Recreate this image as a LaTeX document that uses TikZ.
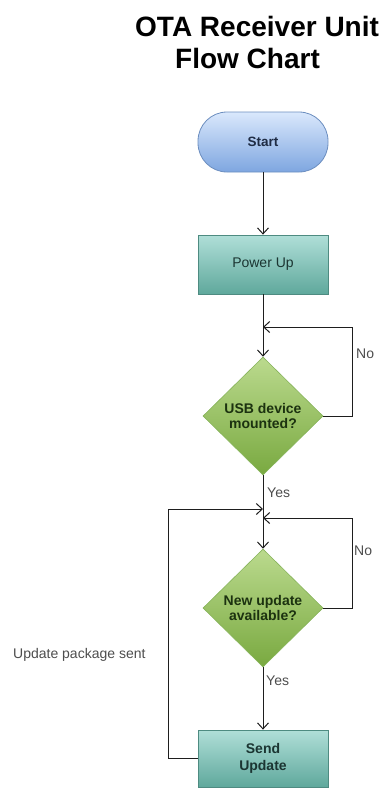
\documentclass[tikz,border=0pt]{standalone}
\usepackage{fontspec}
\setmainfont{Liberation Sans}
\usetikzlibrary{shapes.geometric,arrows.meta}

\definecolor{startTop}{HTML}{DAE8FC}
\definecolor{startBot}{HTML}{7EA6E0}
\definecolor{startLine}{HTML}{6C8EBF}
\definecolor{startInk}{HTML}{1F2C44}
\definecolor{procTop}{HTML}{B0DFD8}
\definecolor{procBot}{HTML}{5FA89C}
\definecolor{procLine}{HTML}{4E8B81}
\definecolor{procInk}{HTML}{1B3532}
\definecolor{decTop}{HTML}{BBDA8E}
\definecolor{decBot}{HTML}{79A940}
\definecolor{decLine}{HTML}{86B35A}
\definecolor{decInk}{HTML}{1C3210}
\definecolor{flowInk}{HTML}{1E1E1E}
\definecolor{noteInk}{HTML}{4D4D4D}

\begin{document}
\begin{tikzpicture}[x=1pt,y=-1pt,
  title/.style={font=\fontsize{28}{32}\selectfont\bfseries, text=black,
    inner sep=0pt, align=left},
  terminal/.style={rectangle, rounded corners=29pt, draw=startLine,
    line width=0.8pt, top color=startTop, bottom color=startBot,
    minimum width=130pt, minimum height=60pt, inner sep=0pt,
    text=startInk, font=\fontsize{13.5}{16}\selectfont\bfseries},
  process/.style={rectangle, draw=procLine, line width=0.8pt,
    top color=procTop, bottom color=procBot,
    minimum width=130pt, inner sep=0pt, align=center,
    text=procInk, font=\fontsize{14}{17}\selectfont},
  decision/.style={diamond, aspect=1, draw=decLine, line width=0.6pt,
    top color=decTop, bottom color=decBot,
    minimum width=120pt, minimum height=118pt, inner sep=0pt, align=center,
    text=decInk, font=\fontsize{14}{15.5}\selectfont\bfseries},
  flow/.style={draw=flowInk, line width=1pt,
    -{Straight Barb[length=6pt,width=11pt]}},
  note/.style={inner sep=0pt, text=noteInk,
    font=\fontsize{14}{16}\selectfont}
]
\useasboundingbox (0,0) rectangle (389,788);

% heading
\node[title, anchor=north west] (head) at (135,16.5)
  {OTA Receiver Unit\\\hspace*{40pt}Flow Chart};

% shapes
\node[terminal] (start) at (263,142) {Start};
\node[process, minimum height=59pt] (power) at (263,264.5) {Power Up};
\node[decision] (usb) at (263,416) {USB device\\[-1pt]mounted?};
\node[decision] (upd) at (263,608) {New update\\[-1pt]available?};
\node[process, minimum height=57pt, font=\fontsize{14}{17}\selectfont\bfseries]
  (send) at (263,758.5) {Send\\Update};

% bend points of the loops
\coordinate (usbLoop) at (352,327);
\coordinate (usbJoin) at (263,327);
\coordinate (backCorner) at (168,509);
\coordinate (backJoin) at (263,509);
\coordinate (updLoop) at (352,518);
\coordinate (updJoin) at (263,518);

% main flow
\draw[flow] (start) -- (power);
\draw[flow] (power) -- (usb);
\draw[flow] (usb) -- (upd);
\draw[flow] (upd) -- (send);

% loops
\draw[flow] (usb.east) -| (usbLoop) -- (usbJoin);
\draw[flow] (upd.east) -| (updLoop) -- (updJoin);
\draw[flow] (send.west) -| (backCorner) -- (backJoin);

% connector labels
\node[note, anchor=base west] (no1) at (356,358) {No};
\node[note, anchor=base west] (no2) at (354,555) {No};
\node[note, anchor=base west] (yes1) at (267,497) {Yes};
\node[note, anchor=base west] (yes2) at (266,685) {Yes};
\node[note, anchor=base west] (sent) at (13,658) {Update package sent};
\end{tikzpicture}
\end{document}
